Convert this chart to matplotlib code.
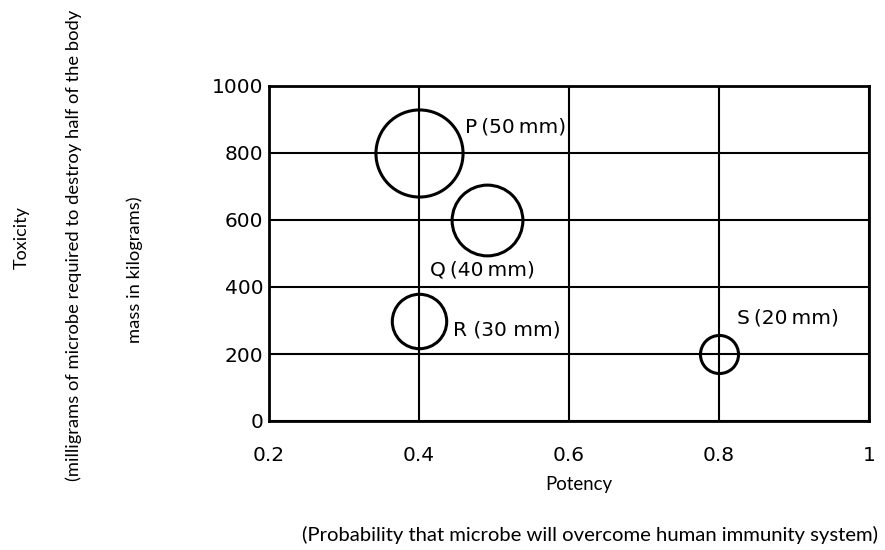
#!/usr/bin/env python3
# Bubble chart: potency vs toxicity of four microbes

import matplotlib
matplotlib.use("Agg")
import matplotlib.pyplot as plt

# Data
microbes = ["P", "Q", "R", "S"]
sizes_mm = [50, 40, 30, 20]
potency = [0.4, 0.49, 0.4, 0.8]
toxicity = [800, 600, 300, 200]

x_ticks = [0.2, 0.4, 0.6, 0.8, 1.0]
x_tick_labels = ["0.2", "0.4", "0.6", "0.8", "1"]
y_ticks = [0, 200, 400, 600, 800, 1000]

# label offsets from bubble centre (points) and the spacing used in the label
label_offsets = {"P": (33, 19), "Q": (-41, -36), "R": (24.5, -7), "S": (13, 26)}
label_gap = {"P": "\u2009", "Q": "\u2009", "R": " ", "S": "\u2009"}

label_font = "Lato"

fig = plt.figure(figsize=(8.85, 5.5), dpi=100)
ax = fig.add_axes([269 / 885, 129 / 550, 600 / 885, 335 / 550])

ax.set_xlim(0.2, 1.0)
ax.set_ylim(0, 1000)
ax.set_xticks(x_ticks)
ax.set_xticklabels(x_tick_labels)
ax.set_yticks(y_ticks)
ax.tick_params(length=0, labelsize=14.5, colors="black")
ax.tick_params(axis="x", pad=18)
ax.tick_params(axis="y", pad=4)
for lbl in ax.get_xticklabels() + ax.get_yticklabels():
    lbl.set_family("DejaVu Sans")
ax.grid(True, color="black", linewidth=1.5)
ax.set_axisbelow(True)
for sp in ax.spines.values():
    sp.set_linewidth(2)
    sp.set_zorder(3)

for name, mm, px, ty in zip(microbes, sizes_mm, potency, toxicity):
    # bubble diameter in points, scaled from the size in mm
    diam = 2 * (2.7 + 0.817 * mm) * 0.72
    ax.plot(px, ty, marker="o", markersize=diam, markerfacecolor="none",
            markeredgecolor="black", markeredgewidth=2.2, linestyle="none",
            zorder=4, clip_on=False)
    g = label_gap[name]
    ax.annotate(f"{name}{g}({mm}{g}mm)", (px, ty),
                xytext=label_offsets[name], textcoords="offset points",
                ha="left", va="center", fontsize=14.5, color="black",
                family="DejaVu Sans")

fig.text(22 / 885, 1 - 238 / 550, "Toxicity", rotation=90, ha="center",
         va="center", fontsize=13, family=label_font)
fig.text(74 / 885, 1 - 245 / 550,
         "(milligrams of microbe required to destroy half of the body",
         rotation=90, ha="center", va="center", fontsize=13.2, family=label_font)
fig.text(135 / 885, 1 - 270 / 550, "mass in kilograms)", rotation=90,
         ha="center", va="center", fontsize=13.2, family=label_font)
fig.text(579 / 885, 1 - 490 / 550, "Potency", ha="center", va="baseline",
         fontsize=13.4, family=label_font)
fig.text(590 / 885, 1 - 541 / 550,
         "(Probability that microbe will overcome human immunity system)",
         ha="center", va="baseline", fontsize=14.6, family=label_font)

fig.savefig("out.png", dpi=100)
